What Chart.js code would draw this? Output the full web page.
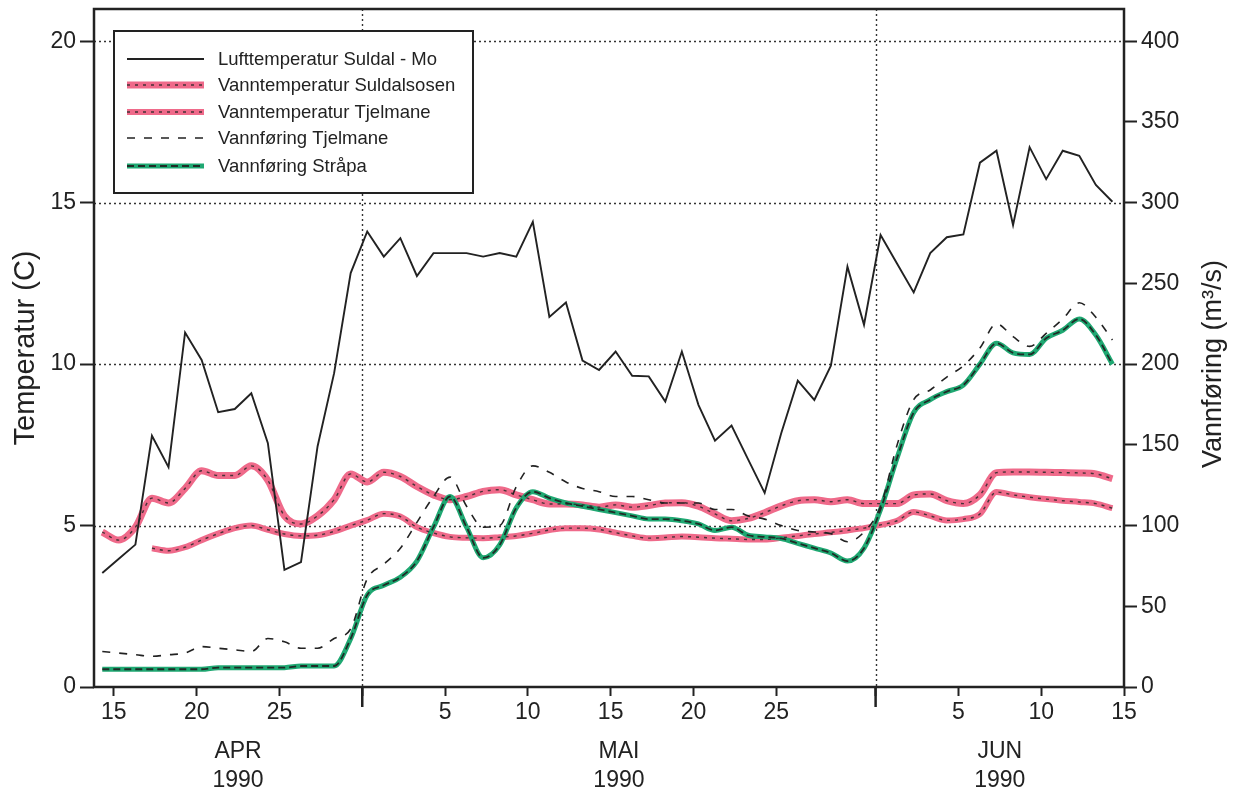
<!DOCTYPE html>
<html>
<head>
<meta charset="utf-8">
<script src="https://cdn.jsdelivr.net/npm/chart.js@4.4.0/dist/chart.umd.min.js"></script>
<style>
    html, body { margin: 0; padding: 0; background: #fff; }
</style>
</head>
<body>
<canvas id="chart" width="1244" height="796"></canvas>
<script>
// Day numbers counted from 0 April 1990 (so 31 = 1 May, 62 = 1 June)
const days = [14, 15, 16, 17, 18, 19, 20, 21, 22, 23, 24, 25, 26, 27, 28, 29, 30, 31, 32, 33,
              34, 35, 36, 37, 38, 39, 40, 41, 42, 43, 44, 45, 46, 47, 48, 49, 50, 51, 52, 53,
              54, 55, 56, 57, 58, 59, 60, 61, 62, 63, 64, 65, 66, 67, 68, 69, 70, 71, 72, 73,
              74, 75];
const obsOffset = 0.3; // daily readings sit a little after the day tick

// Lufttemperatur Suldal - Mo (C)
const lufttemp = [3.53, 3.97, 4.41, 7.78, 6.81, 10.98, 10.13, 8.51, 8.61, 9.10,
                  7.55, 3.63, 3.87, 7.45, 9.72, 12.82, 14.11, 13.33, 13.90, 12.73,
                  13.44, 13.44, 13.44, 13.33, 13.44, 13.33, 14.41, 11.46, 11.91, 10.11,
                  9.82, 10.39, 9.64, 9.62, 8.84, 10.39, 8.74, 7.63, 8.10, 7.05,
                  6.01, 7.86, 9.49, 8.89, 9.95, 13.02, 11.22, 14.00, 13.11, 12.22,
                  13.44, 13.93, 14.02, 16.24, 16.61, 14.31, 16.72, 15.73, 16.61, 16.45,
                  15.55, 15.03];
// Vanntemperatur Suldalsosen (C)
const vtSuldalsosen = [4.8, 4.55, 4.95, 5.85, 5.7, 6.15, 6.7, 6.55, 6.55, 6.85,
                       6.4, 5.3, 5.05, 5.3, 5.8, 6.6, 6.35, 6.65, 6.52, 6.21,
                       5.95, 5.80, 5.90, 6.06, 6.11, 5.95, 5.80, 5.67, 5.67, 5.64,
                       5.57, 5.64, 5.57, 5.62, 5.70, 5.71, 5.60, 5.36, 5.15, 5.22,
                       5.40, 5.61, 5.77, 5.80, 5.74, 5.80, 5.68, 5.68, 5.68, 5.95,
                       5.98, 5.77, 5.68, 5.95, 6.64, 6.66, 6.66, 6.65, 6.64, 6.63,
                       6.60, 6.45];
// Vanntemperatur Tjelmane (C)
const vtTjelmane = [null, null, null, 4.30, 4.22, 4.33, 4.55, 4.75, 4.92, 5.0,
                    4.87, 4.74, 4.68, 4.70, 4.82, 5.0, 5.17, 5.37, 5.28, 4.95,
                    4.77, 4.65, 4.62, 4.61, 4.64, 4.68, 4.76, 4.86, 4.92, 4.92,
                    4.88, 4.78, 4.68, 4.61, 4.63, 4.66, 4.64, 4.61, 4.59, 4.57,
                    4.57, 4.62, 4.68, 4.74, 4.79, 4.85, 4.92, 5.02, 5.15, 5.42,
                    5.30, 5.16, 5.20, 5.36, 6.04, 5.95, 5.88, 5.82, 5.77, 5.73,
                    5.68, 5.54];
// Vannføring Tjelmane (m3/s)
const qTjelmane = [22, 21, 20, 19, 20, 21, 25, 24, 23, 22,
                   30, 28, 24, 24, 30, 36, 67, 76, 86, 102,
                   118, 130, 112, 99, 100, 124, 137, 133, 127, 123,
                   121, 118, 118, 116, 114, 114, 114, 110, 110, 106,
                   104, 100, 97, 96, 95, 90, 96, 112, 150, 178,
                   184, 192, 199, 210, 225, 217, 211, 219, 228, 238,
                   229, 215];
// Vannføring Stråpa (m3/s)
const qStrapa = [11, 11, 11, 11, 11, 11, 11, 12, 12, 12,
                 12, 12, 13, 13, 13, 30, 57, 63, 68, 78,
                 99, 118, 99, 80, 88, 111, 121, 117, 114, 112,
                 110, 108, 106, 104, 104, 103, 101, 97, 99, 94,
                 93, 92, 89, 86, 83, 78, 86, 110, 142, 170,
                 178, 183, 187, 200, 213, 207, 206, 216, 221, 228,
                 218, 200];

const xTickDays = [15, 20, 25, 30, 35, 40, 45, 50, 55, 61, 66, 71, 76];
const xTickLabels = ['15', '20', '25', '', '5', '10', '15', '20', '25', '', '5', '10', '15'];
const monthEdges = [15, 30, 61, 76];
const monthNames = ['APR', 'MAI', 'JUN'];
const yearLabel = '1990';
const tempTicks = [0, 5, 10, 15, 20];
const flowTicks = [0, 50, 100, 150, 200, 250, 300, 350, 400];
const gridTemps = [5, 10, 15, 20];

const FONT = "'Liberation Sans', Arial, Helvetica, sans-serif";
const INK = '#222';
const PINK = '#ef6a8a';
const GREEN = '#1fa872';

const xy = vals => days
    .map((d, i) => vals[i] == null ? null : { x: d + obsOffset, y: vals[i] })
    .filter(p => p !== null);

const datasets = [
    { label: 'Lufttemperatur Suldal - Mo', data: xy(lufttemp), yAxisID: 'y',
      borderColor: INK, borderWidth: 1.9, tension: 0, order: 1 },
    { label: 'Vanntemperatur Suldalsosen', data: xy(vtSuldalsosen), yAxisID: 'y',
      borderColor: PINK, borderWidth: 7, cubicInterpolationMode: 'monotone', order: 6 },
    { label: 'Vanntemperatur Tjelmane', data: xy(vtTjelmane), yAxisID: 'y',
      borderColor: PINK, borderWidth: 6, cubicInterpolationMode: 'monotone', order: 6 },
    { label: 'Vannføring Tjelmane', data: xy(qTjelmane), yAxisID: 'yR',
      borderColor: INK, borderWidth: 1.6, borderDash: [8, 9], cubicInterpolationMode: 'monotone', order: 2 },
    { label: 'Vannføring Stråpa', data: xy(qStrapa), yAxisID: 'yR',
      borderColor: GREEN, borderWidth: 5, cubicInterpolationMode: 'monotone', order: 5 },
    // dark overlays drawn on top of the coloured bands
    { label: '_overlay1', data: xy(vtSuldalsosen), yAxisID: 'y',
      borderColor: 'rgba(40,40,40,0.85)', borderWidth: 1.4, borderDash: [3, 5], cubicInterpolationMode: 'monotone', order: 4 },
    { label: '_overlay2', data: xy(vtTjelmane), yAxisID: 'y',
      borderColor: 'rgba(40,40,40,0.85)', borderWidth: 1.4, borderDash: [3, 5], cubicInterpolationMode: 'monotone', order: 4 },
    { label: '_overlay4', data: xy(qStrapa), yAxisID: 'yR',
      borderColor: 'rgba(30,30,30,0.9)', borderWidth: 1.8, borderDash: [7, 4], cubicInterpolationMode: 'monotone', order: 3 }
];

// which overlay belongs to which legend entry
const legendRows = [
    { main: 0 }, { main: 1, over: 5 }, { main: 2, over: 6 }, { main: 3 }, { main: 4, over: 7 }
];

const decorPlugin = {
    id: 'decor',
    beforeDatasetsDraw(chart) {
        const { ctx, chartArea: a, scales } = chart;
        ctx.save();
        ctx.strokeStyle = '#333';
        ctx.lineWidth = 1.4;
        ctx.setLineDash([2, 3]);
        gridTemps.forEach(t => {
            const y = Math.round(scales.y.getPixelForValue(t)) + 0.5;
            ctx.beginPath(); ctx.moveTo(a.left, y); ctx.lineTo(a.right, y); ctx.stroke();
        });
        [monthEdges[1], monthEdges[2]].forEach(d => {
            const x = Math.round(scales.x.getPixelForValue(d)) + 0.5;
            ctx.beginPath(); ctx.moveTo(x, a.top); ctx.lineTo(x, a.bottom); ctx.stroke();
        });
        ctx.restore();
    },
    afterDraw(chart) {
        const { ctx, chartArea: a, scales } = chart;
        ctx.save();
        // frame
        ctx.strokeStyle = INK;
        ctx.lineWidth = 2.5;
        ctx.strokeRect(a.left, a.top, a.right - a.left, a.bottom - a.top);
        // long ticks at month boundaries
        [monthEdges[1], monthEdges[2]].forEach(d => {
            const x = scales.x.getPixelForValue(d);
            ctx.beginPath(); ctx.moveTo(x, a.bottom); ctx.lineTo(x, a.bottom + 20); ctx.stroke();
        });
        // month / year labels
        ctx.fillStyle = INK;
        ctx.font = '23px ' + FONT;
        ctx.textAlign = 'center';
        ctx.textBaseline = 'middle';
        monthNames.forEach((m, i) => {
            const x = scales.x.getPixelForValue((monthEdges[i] + monthEdges[i + 1]) / 2);
            ctx.fillText(m, x, 752);
            ctx.fillText(yearLabel, x, 781);
        });
        // right axis title, reading bottom to top
        ctx.translate(1214, 364);
        ctx.rotate(-Math.PI / 2);
        ctx.font = '27px ' + FONT;
        ctx.fillText('Vannføring (m³/s)', 0, 0);
        ctx.restore();

        // legend box
        ctx.save();
        const bx = 114, by = 31, bw = 359, bh = 162;
        ctx.fillStyle = '#fff';
        ctx.fillRect(bx, by, bw, bh);
        ctx.strokeStyle = INK;
        ctx.lineWidth = 2;
        ctx.strokeRect(bx, by, bw, bh);
        const rowY = [59, 85, 112, 138, 166];
        legendRows.forEach((r, i) => {
            const y = rowY[i];
            [r.main, r.over].forEach(idx => {
                if (idx === undefined) return;
                const ds = chart.data.datasets[idx];
                ctx.strokeStyle = ds.borderColor;
                ctx.lineWidth = ds.borderWidth;
                ctx.setLineDash(ds.borderDash || []);
                ctx.beginPath(); ctx.moveTo(127, y); ctx.lineTo(204, y); ctx.stroke();
            });
            ctx.setLineDash([]);
            ctx.fillStyle = INK;
            ctx.font = '18.5px ' + FONT;
            ctx.textAlign = 'left';
            ctx.textBaseline = 'middle';
            ctx.fillText(chart.data.datasets[r.main].label, 218, y + 1);
        });
        ctx.restore();
    }
};

const tickFont = { family: FONT, size: 23 };
// keep the plot box exactly where the layout padding puts it
const noVPad = s => { s.paddingTop = 0; s.paddingBottom = 0; };

new Chart(document.getElementById('chart'), {
    type: 'line',
    data: { datasets },
    options: {
        responsive: false,
        animation: false,
        layout: { padding: { top: 9, left: 0, right: 0, bottom: 0 } },
        elements: { point: { radius: 0 } },
        plugins: { legend: { display: false }, tooltip: { enabled: false } },
        scales: {
            x: {
                type: 'linear', min: 13.8, max: 76,
                afterBuildTicks: s => { s.ticks = xTickDays.map(v => ({ value: v })); },
                afterFit: s => { s.height = 109; s.paddingLeft = 0; s.paddingRight = 0; },
                grid: { drawOnChartArea: false, tickLength: 9, tickWidth: 2, tickColor: INK },
                border: { display: false },
                ticks: { callback: (v, i) => xTickLabels[i], font: tickFont, color: INK,
                         padding: 3, maxRotation: 0, autoSkip: false }
            },
            y: {
                position: 'left', min: 0, max: 21,
                afterBuildTicks: s => { s.ticks = tempTicks.map(v => ({ value: v })); },
                afterFit: s => { s.width = 94; noVPad(s); },
                grid: { drawOnChartArea: false, tickLength: 14, tickWidth: 2, tickColor: INK },
                border: { display: false },
                ticks: { font: tickFont, color: INK, padding: 4 },
                title: { display: true, text: 'Temperatur (C)', color: INK,
                         font: { family: FONT, size: 29 }, padding: { top: 9, bottom: 0 } }
            },
            yR: {
                position: 'right', min: 0, max: 420,
                afterBuildTicks: s => { s.ticks = flowTicks.map(v => ({ value: v })); },
                afterFit: s => { s.width = 120; noVPad(s); },
                grid: { drawOnChartArea: false, tickLength: 13, tickWidth: 2, tickColor: INK },
                border: { display: false },
                ticks: { font: tickFont, color: INK, padding: 4 }
            }
        }
    },
    plugins: [decorPlugin]
});
</script>
</body>
</html>
